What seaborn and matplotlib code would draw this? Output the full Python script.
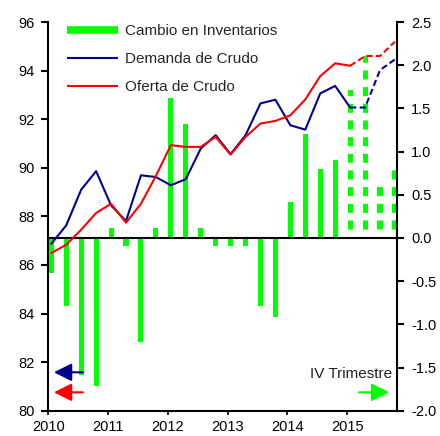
import matplotlib
matplotlib.use("Agg")
import matplotlib.pyplot as plt
from matplotlib.lines import Line2D
import numpy as np
import pandas as pd
import seaborn as sns

# ---- data ----
years = [2010]*4 + [2011]*4 + [2012]*4 + [2013]*4 + [2014]*4 + [2015]*4
quarters = [1, 2, 3, 4]*6
demanda = [86.87, 87.63, 89.10, 89.86, 88.45, 87.81, 89.69, 89.62,
           89.28, 89.53, 90.79, 91.34, 90.56, 91.34, 92.65, 92.80,
           91.75, 91.57, 93.06, 93.37, 92.48, 92.48, 94.02, 94.46]
oferta = [86.49, 86.83, 87.45, 88.14, 88.52, 87.74, 88.52, 89.66,
          90.93, 90.86, 90.86, 91.27, 90.54, 91.27, 91.82, 91.93,
          92.16, 92.81, 93.77, 94.30, 94.20, 94.60, 94.60, 95.19]
inventarios = [-0.40, -0.79, -1.59, -1.71, 0.12, -0.09, -1.21, 0.12,
               1.62, 1.32, 0.12, -0.09, -0.09, -0.09, -0.79, -0.91,
               0.42, 1.20, 0.80, 0.90, 1.71, 2.11, 0.60, 0.80]
n_hist = 20  # first forecast quarter index (2015 T1 onward drawn dashed)
year_ticks = [2010, 2011, 2012, 2013, 2014, 2015]
left_ticks = [80, 82, 84, 86, 88, 90, 92, 94, 96]
right_ticks = [-2.0, -1.5, -1.0, -0.5, 0.0, 0.5, 1.0, 1.5, 2.0, 2.5]

labels = ["Cambio en Inventarios", "Demanda de Crudo", "Oferta de Crudo"]

GREEN = "#00FF00"
NAVY = "#000090"
RED = "#FF0000"

# ---- style ----
sns.set_theme(style="white")
plt.rcParams["font.family"] = ["Liberation Sans", "DejaVu Sans"]
plt.rcParams["axes.unicode_minus"] = False
plt.rcParams["hatch.linewidth"] = 6.5

x = np.array(years) + (np.array(quarters) - 1) / 4.0 + 0.05
df = pd.DataFrame({"x": x, "demanda": demanda, "oferta": oferta,
                   "inv": inventarios})

fig = plt.figure(figsize=(4.4, 4.36), dpi=100)
ax = fig.add_axes([0.1098, 0.058, 0.7932, 0.8915])
ax2 = ax.twinx()

# bars (right axis)
hist = df.iloc[:n_hist]
fc = df.iloc[n_hist:]
sns.barplot(data=hist, x="x", y="inv", native_scale=True, color=GREEN,
            saturation=1, width=0.34, errorbar=None, ax=ax2)
nb = len(ax2.patches)
sns.barplot(data=fc, x="x", y="inv", native_scale=True, color=GREEN,
            saturation=1, width=0.34, errorbar=None, ax=ax2)
for k, p in enumerate(ax2.patches[nb:]):
    p.set_facecolor("none")
    p.set_edgecolor(GREEN)
    p.set_hatch("-")
    p.set_linewidth(0)
    if hasattr(p, "set_hatch_linewidth"):
        p.set_hatch_linewidth(6.5)
for p in ax2.patches[:nb]:
    p.set_edgecolor("none")
ax2.axhline(0, color="black", lw=1.5, zorder=5)

# lines (left axis)
sns.lineplot(x=df["x"][:n_hist + 1], y=df["demanda"][:n_hist + 1], ax=ax,
             color=NAVY, lw=1.5)
sns.lineplot(x=df["x"][n_hist:], y=df["demanda"][n_hist:], ax=ax,
             color=NAVY, lw=1.5, linestyle=(0, (3, 1.6)))
sns.lineplot(x=df["x"][:n_hist + 1], y=df["oferta"][:n_hist + 1], ax=ax,
             color=RED, lw=1.5)
sns.lineplot(x=df["x"][n_hist:], y=df["oferta"][n_hist:], ax=ax,
             color=RED, lw=1.5, linestyle=(0, (3, 1.6)))

ax.set_zorder(ax2.get_zorder() + 1)
ax.patch.set_visible(False)

# axes setup
ax.set_xlim(2010, 2015.84)
ax.set_ylim(80, 96)
ax2.set_ylim(-2.0, 2.5)
ax.set_xticks(year_ticks)
ax.set_xticklabels([str(y) for y in year_ticks])
ax.set_yticks(left_ticks)
ax.set_yticklabels([str(v) for v in left_ticks])
ax2.set_yticks(right_ticks)
ax2.set_yticklabels([f"{v:.1f}" for v in right_ticks])
ax.set_xlabel("")
ax.set_ylabel("")
ax2.set_ylabel("")
ax2.set_xlabel("")

for a in (ax, ax2):
    a.spines["top"].set_visible(False)
    for s in ("left", "right", "bottom"):
        a.spines[s].set_color("black")
        a.spines[s].set_linewidth(1.5)
ax.spines["right"].set_visible(False)
ax2.spines["left"].set_visible(False)
ax2.spines["bottom"].set_visible(False)

ax.tick_params(axis="y", direction="out", length=5, width=1.5, colors="black",
               labelsize=10.5, pad=5, left=True)
ax.tick_params(axis="x", direction="out", length=3, width=1.2, colors="black",
               labelsize=10.5, pad=4, bottom=True)
ax2.tick_params(axis="y", direction="out", length=5, width=1.5, colors="black",
                labelsize=10.5, pad=5, right=True)

# legend
handles = [Line2D([], [], color=GREEN, lw=5.5, solid_capstyle="butt"),
           Line2D([], [], color=NAVY, lw=1.5, solid_capstyle="butt"),
           Line2D([], [], color=RED, lw=1.5, solid_capstyle="butt")]
fig.legend(handles, labels, loc="upper left",
           bbox_to_anchor=(66.5 / 440, 1 - 24 / 436),
           bbox_transform=fig.transFigure, frameon=False, fontsize=11,
           handlelength=3.4, handletextpad=0.45, labelspacing=0.92,
           borderpad=0, borderaxespad=0)

# arrows
arrow_kw = dict(arrowstyle="-|>,head_length=0.9,head_width=0.45", lw=1.5,
                shrinkA=0, shrinkB=0)
ax.annotate("", xy=(0.016, 0.0988), xytext=(0.099, 0.0988),
            xycoords="axes fraction", textcoords="axes fraction",
            arrowprops=dict(color=NAVY, **arrow_kw))
ax.annotate("", xy=(0.016, 0.0473), xytext=(0.099, 0.0473),
            xycoords="axes fraction", textcoords="axes fraction",
            arrowprops=dict(color=RED, **arrow_kw))
ax.annotate("", xy=(0.977, 0.0473), xytext=(0.890, 0.0473),
            xycoords="axes fraction", textcoords="axes fraction",
            arrowprops=dict(color=GREEN, **arrow_kw))
ax.text(0.985, 0.094, "IV Trimestre", transform=ax.transAxes,
        ha="right", va="center", fontsize=11, color="#222222")

fig.savefig("out.png", dpi=100)
